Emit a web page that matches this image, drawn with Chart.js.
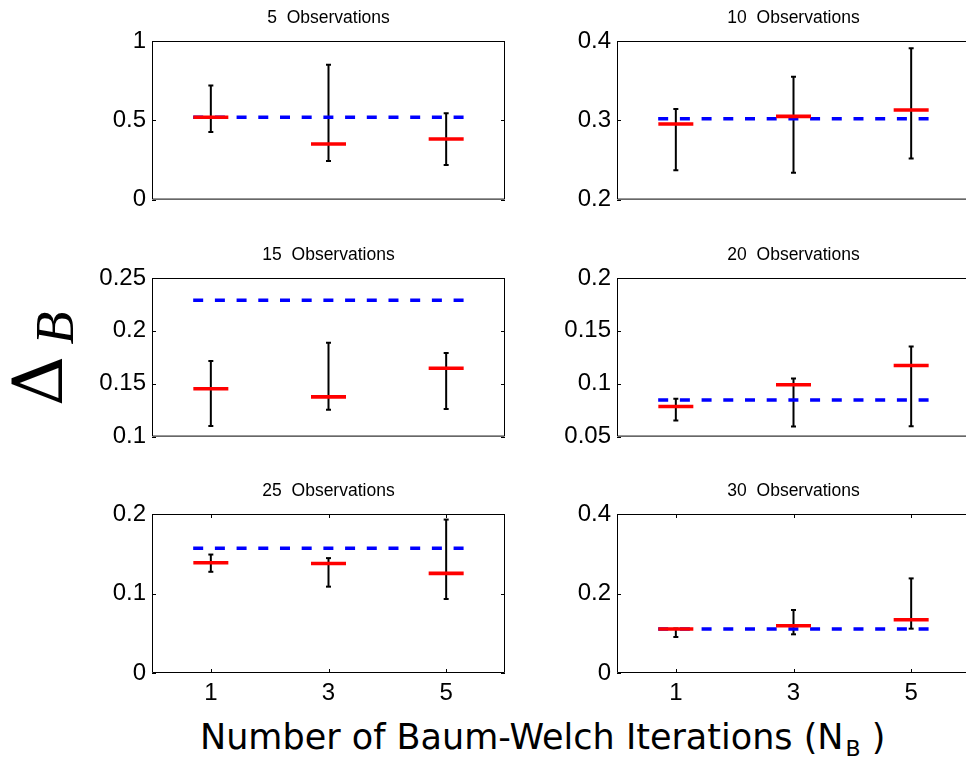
<!DOCTYPE html>
<html>
<head>
<meta charset="utf-8">
<title>Delta B vs Baum-Welch iterations</title>
<script src="https://cdn.jsdelivr.net/npm/chart.js@4.4.1/dist/chart.umd.min.js"></script>
<style>
  html, body { margin: 0; padding: 0; background: #fff; overflow: hidden; }
  body { width: 966px; height: 758px; position: relative; }
  .panel { position: absolute; }
  .panel canvas { display: block; }
  .rot {
    position: absolute;
    transform: translate(-50%, -50%) rotate(-90deg);
    white-space: nowrap; line-height: 1; color: #000;
  }
  #ylabelD { left: 38px; top: 381px; font-family: "DejaVu Serif", "Liberation Serif", serif; font-size: 70px; }
  #ylabelB { left: 55px; top: 328px; font-family: "Liberation Serif", serif; font-size: 54px; font-style: italic; }
  #xlabel {
    position: absolute; left: 200px; top: 720px;
    font-family: "DejaVu Sans", sans-serif; font-size: 35px; line-height: 1;
    white-space: nowrap; color: #000;
  }
  #xlabel sub { font-size: 22px; vertical-align: baseline; position: relative; top: 7px; line-height: 0; margin-left: 2px; }
</style>
</head>
<body>
<div class="rot" id="ylabelD">Δ</div>
<div class="rot" id="ylabelB">B</div>
<div id="xlabel">Number of Baum-Welch Iterations (N<sub>B</sub> )</div>

<script>
  // ---------- data ----------
  const iterations = [1, 3, 5];
  const observations = [5, 10, 15, 20, 25, 30];

  // red marks (one row per panel, one value per iteration count)
  const medians = [
    [0.519, 0.351, 0.382],
    [0.2954, 0.305, 0.313],
    [0.1452, 0.1376, 0.1647],
    [0.0784, 0.099, 0.1173],
    [0.1386, 0.1378, 0.1253],
    [0.1107, 0.119, 0.134],
  ];
  // error bar ends
  const upper = [
    [0.72, 0.851, 0.544],
    [0.3143, 0.355, 0.391],
    [0.1714, 0.1887, 0.179],
    [0.0857, 0.105, 0.1353],
    [0.149, 0.1445, 0.193],
    [0.112, 0.1585, 0.238],
  ];
  const lower = [
    [0.426, 0.244, 0.218],
    [0.237, 0.234, 0.2517],
    [0.1101, 0.1253, 0.1262],
    [0.0652, 0.0595, 0.0598],
    [0.1273, 0.1086, 0.0931],
    [0.0906, 0.0973, 0.1115],
  ];
  // blue dashed reference level per panel, and its x extent
  const baseline = [0.519, 0.302, 0.229, 0.0847, 0.157, 0.1107];
  const baselineSpan = [0.7, 5.3];

  // y axis ranges and tick labels per panel
  const yRanges = [[0, 1], [0.2, 0.4], [0.1, 0.25], [0.05, 0.2], [0, 0.2], [0, 0.4]];
  const yTicks = [
    [0, 0.5, 1],
    [0.2, 0.3, 0.4],
    [0.1, 0.15, 0.2, 0.25],
    [0.05, 0.1, 0.15, 0.2],
    [0, 0.1, 0.2],
    [0, 0.2, 0.4],
  ];
  const xRange = [0, 6];

  // ---------- layout ----------
  const PANEL_X = [152, 617];
  const PANEL_Y = [41, 278, 514];
  const PLOT_W = 353, PLOT_H = 159;
  const AXIS_W = 100, TITLE_H = 41, XAXIS_H = 45;
  const TICK_FONT = { family: "'Liberation Sans', Arial, sans-serif", size: 24 };

  // MATLAB-style box with inward tick marks
  const boxPlugin = {
    id: "matlabBox",
    afterDatasetsDraw(chart, args, opts) {
      const { ctx, chartArea: a, scales } = chart;
      ctx.save();
      ctx.strokeStyle = "#000";
      ctx.lineWidth = 1;
      ctx.beginPath();
      ctx.rect(a.left + 0.5, a.top + 0.5, a.right - a.left - 1, a.bottom - a.top - 1);
      scales.y.ticks.forEach((t) => {
        const y = Math.round(scales.y.getPixelForValue(t.value)) + 0.5;
        ctx.moveTo(a.left, y); ctx.lineTo(a.left + 4, y);
        ctx.moveTo(a.right - 4, y); ctx.lineTo(a.right, y);
      });
      if (opts.xTicks) {
        scales.x.ticks.forEach((t) => {
          const x = Math.round(scales.x.getPixelForValue(t.value)) + 0.5;
          ctx.moveTo(x, a.bottom); ctx.lineTo(x, a.bottom - 4);
          ctx.moveTo(x, a.top); ctx.lineTo(x, a.top + 4);
        });
      }
      ctx.stroke();
      ctx.restore();
    },
  };

  observations.forEach((obs, i) => {
    const col = i % 2, row = Math.floor(i / 2);
    const bottomRow = row === 2;

    const wrap = document.createElement("div");
    wrap.className = "panel";
    wrap.style.left = PANEL_X[col] - AXIS_W + "px";
    wrap.style.top = PANEL_Y[row] - TITLE_H + "px";
    const canvas = document.createElement("canvas");
    canvas.width = AXIS_W + PLOT_W + 3;
    canvas.height = TITLE_H + PLOT_H + (bottomRow ? XAXIS_H : 20);
    canvas.style.width = canvas.width + "px";
    canvas.style.height = canvas.height + "px";
    wrap.appendChild(canvas);
    document.body.appendChild(wrap);

    const datasets = [];
    // error bars
    iterations.forEach((it, j) => {
      datasets.push({
        type: "line",
        data: [{ x: it, y: lower[i][j] }, { x: it, y: upper[i][j] }],
        borderColor: "#000",
        borderWidth: 2,
        pointStyle: "line",
        pointRadius: 2.5,
        pointBorderWidth: 2,
        pointBorderColor: "#000",
        order: 3,
      });
    });
    // dashed reference
    datasets.push({
      type: "line",
      data: baselineSpan.map((x) => ({ x, y: baseline[i] })),
      borderColor: "#0000ff",
      borderWidth: 3.5,
      borderDash: [10, 11.7],
      pointRadius: 0,
      order: 2,
    });
    // red marks
    datasets.push({
      type: "scatter",
      data: iterations.map((it, j) => ({ x: it, y: medians[i][j] })),
      pointStyle: "line",
      pointRadius: 17.5,
      pointBorderWidth: 3.6,
      pointBorderColor: "#ff0000",
      borderColor: "#ff0000",
      order: 1,
    });

    new Chart(canvas, {
      type: "scatter",
      data: { datasets },
      plugins: [boxPlugin],
      options: {
        responsive: false,
        animation: false,
        events: [],
        layout: {
          autoPadding: false,
          padding: { left: 0, right: 3, top: 0, bottom: bottomRow ? 0 : 20 },
        },
        scales: {
          x: {
            type: "linear",
            min: xRange[0],
            max: xRange[1],
            display: bottomRow,
            afterBuildTicks: (s) => { s.ticks = iterations.map((v) => ({ value: v })); },
            afterFit: (s) => { if (bottomRow) s.height = XAXIS_H; },
            grid: { display: false, drawTicks: false },
            border: { display: false },
            ticks: { font: TICK_FONT, color: "#000", padding: 6, maxRotation: 0, autoSkip: false, callback: (v) => String(v) },
          },
          y: {
            type: "linear",
            min: yRanges[i][0],
            max: yRanges[i][1],
            afterBuildTicks: (s) => { s.ticks = yTicks[i].map((v) => ({ value: v })); },
            afterFit: (s) => { s.width = AXIS_W; },
            grid: { display: false, drawTicks: false },
            border: { display: false },
            ticks: { font: TICK_FONT, color: "#000", padding: 6, autoSkip: false, callback: (v) => String(v) },
          },
        },
        plugins: {
          legend: { display: false },
          tooltip: { enabled: false },
          matlabBox: { xTicks: bottomRow },
          title: {
            display: true,
            text: obs + "  Observations",
            fullSize: false,
            color: "#000",
            font: { family: "'Liberation Sans', Arial, sans-serif", size: 17.5, weight: "normal", lineHeight: 1.2 },
            padding: { top: 7.3, bottom: 12.7 },
          },
        },
      },
    });
  });
</script>
</body>
</html>
